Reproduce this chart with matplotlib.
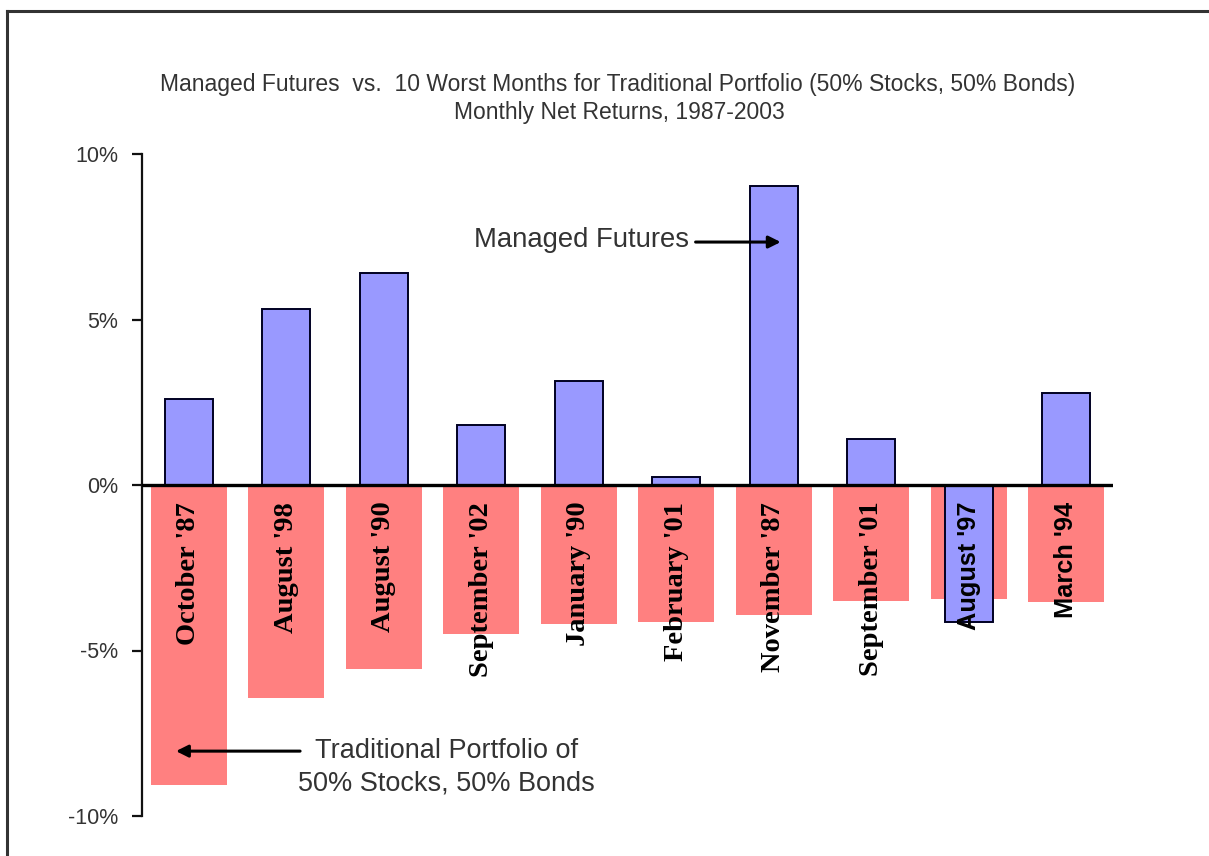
import matplotlib
matplotlib.use("Agg")
import matplotlib.pyplot as plt
from matplotlib.lines import Line2D
import numpy as np

months = ["October '87", "August '98", "August '90", "September '02", "January '90",
          "February '01", "November '87", "September '01", "August '97", "March '94"]
traditional = [-9.06, -6.43, -5.56, -4.50, -4.20, -4.14, -3.93, -3.50, -3.44, -3.53]
managed = [2.60, 5.32, 6.40, 1.81, 3.14, 0.24, 9.03, 1.39, -4.14, 2.78]
yticks = [-10, -5, 0, 5, 10]
yticklabels = ["-10%", "-5%", "0%", "5%", "10%"]
title_lines = ["Managed Futures  vs.  10 Worst Months for Traditional Portfolio (50% Stocks, 50% Bonds)",
               "Monthly Net Returns, 1987-2003"]

SANS = "Liberation Sans"
SERIF = "Liberation Serif"
RED = "#FF8080"
BLUE = "#9999FF"
GRAY = "#333333"

fig = plt.figure(figsize=(12.09, 8.56), dpi=100)
ax = fig.add_axes([142 / 1209, 1 - 816 / 856, 971 / 1209, (816 - 154) / 856])

x = np.arange(len(months))
ax.bar(x, traditional, width=0.78, color=RED, edgecolor="none", zorder=1)
ax.bar(x, managed, width=0.49, color=BLUE, edgecolor="#000022", linewidth=1.4, zorder=2)
ax.axhline(0, color="black", linewidth=2.4, zorder=3)

for i, m in enumerate(months):
    sans = m in ("August '97", "March '94")
    ax.annotate(m, xy=(x[i], 0), xytext=(0, -12), textcoords="offset points",
                rotation=90, ha="center", va="top", fontsize=18.3 if sans else 20.5,
                fontweight="bold", family=SANS if sans else SERIF, color="black", zorder=5)

ax.set_xlim(-0.48, 9.48)
ax.set_ylim(-10, 10)
ax.set_yticks(yticks)
ax.set_yticklabels(yticklabels, family=SANS, fontsize=15.5, color=GRAY)
ax.set_xticks([])
for s in ("top", "right", "bottom"):
    ax.spines[s].set_visible(False)
ax.spines["left"].set_linewidth(1.6)
ax.spines["left"].set_color("#111111")
ax.tick_params(axis="y", direction="out", length=7, width=1.6, pad=10, color="#111111")

# annotations
ax.annotate("", xy=(6.10, 7.34), xytext=(5.17, 7.34),
            arrowprops=dict(arrowstyle="-|>", color="black", lw=2.2, mutation_scale=18), zorder=6)
ax.text(5.13, 7.4, "Managed Futures", ha="right", va="center", family=SANS,
        fontsize=19.8, color=GRAY, zorder=6)
ax.annotate("", xy=(-0.16, -8.04), xytext=(1.17, -8.04),
            arrowprops=dict(arrowstyle="-|>", color="black", lw=2.2, mutation_scale=18), zorder=6)
ax.text(2.64, -8.52, "Traditional Portfolio of\n50% Stocks, 50% Bonds", ha="center", va="center",
        family=SANS, fontsize=19.5, color=GRAY, linespacing=1.33, zorder=6)

# title
fig.text(617.5 / 1209, 1 - 85 / 856, title_lines[0], ha="center", va="center",
         family=SANS, fontsize=16.5, color=GRAY)
fig.text(619 / 1209, 1 - 113 / 856, title_lines[1], ha="center", va="center",
         family=SANS, fontsize=16.5, color=GRAY)

# frame border (left and top)
fig.add_artist(Line2D([7 / 1209, 7 / 1209], [0, 1 - 11 / 856], transform=fig.transFigure,
                      color="#333333", linewidth=2.2))
fig.add_artist(Line2D([7 / 1209, 1], [1 - 11 / 856, 1 - 11 / 856], transform=fig.transFigure,
                      color="#333333", linewidth=2.2))

fig.savefig("out.png", dpi=100)
